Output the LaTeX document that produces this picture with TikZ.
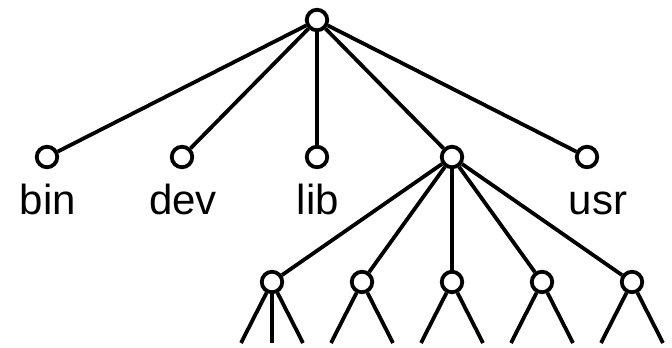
\documentclass[tikz,border=0pt]{standalone}
\usepackage{fontspec}
\setmainfont{Liberation Sans}
\usetikzlibrary{positioning}

\begin{document}
\begin{tikzpicture}[x=1pt, y=-1pt, line width=3.8pt,
        dir/.style={circle, draw, minimum size=20.5pt, inner sep=0pt},
        lbl/.style={font=\fontsize{42}{50}\selectfont, inner sep=0pt, anchor=base}]
        \useasboundingbox (0,0) rectangle (672,348);
        \node[dir] (root) at (317,20) {};
        \node[dir] (bin) at (47,157) {};
        \node[dir] (dev) at (182,157) {};
        \node[dir] (lib) at (317,157) {};
        \node[dir] (sub) at (452,157) {};
        \node[dir] (usr) at (587,157) {};

        \node[lbl] (binlbl) at (48,214) {bin};
        \node[lbl] (devlbl) at (183,214) {dev};
        \node[lbl] (liblbl) at (318,214) {lib};
        \node[lbl] (usrlbl) at (598,214) {usr};

        \node[dir] (s1) at (272,282) {};
        \node[dir] (s2) at (362,282) {};
        \node[dir] (s3) at (452,282) {};
        \node[dir] (s4) at (542,282) {};
        \node[dir] (s5) at (632,282) {};

        % loose ends at the bottom
        \coordinate (s1l) at (241,343);
        \coordinate (s1m) at (272,343);
        \coordinate (s1r) at (303,343);
        \coordinate (s2l) at (331,343);
        \coordinate (s2r) at (393,343);
        \coordinate (s3l) at (421,343);
        \coordinate (s3r) at (483,343);
        \coordinate (s4l) at (511,343);
        \coordinate (s4r) at (573,343);
        \coordinate (s5l) at (601,343);
        \coordinate (s5r) at (663,343);

        \path (root) edge (bin);
        \path (root) edge (dev);
        \path (root) edge (lib);
        \path (root) edge (sub);
        \path (root) edge (usr);

        \path (sub) edge (s1);
        \path (sub) edge (s2);
        \path (sub) edge (s3);
        \path (sub) edge (s4);
        \path (sub) edge (s5);

        \path (s1) edge (s1l);
        \path (s1) edge (s1m);
        \path (s1) edge (s1r);
        \path (s2) edge (s2l);
        \path (s2) edge (s2r);
        \path (s3) edge (s3l);
        \path (s3) edge (s3r);
        \path (s4) edge (s4l);
        \path (s4) edge (s4r);
        \path (s5) edge (s5l);
        \path (s5) edge (s5r);
    \end{tikzpicture}
\end{document}
